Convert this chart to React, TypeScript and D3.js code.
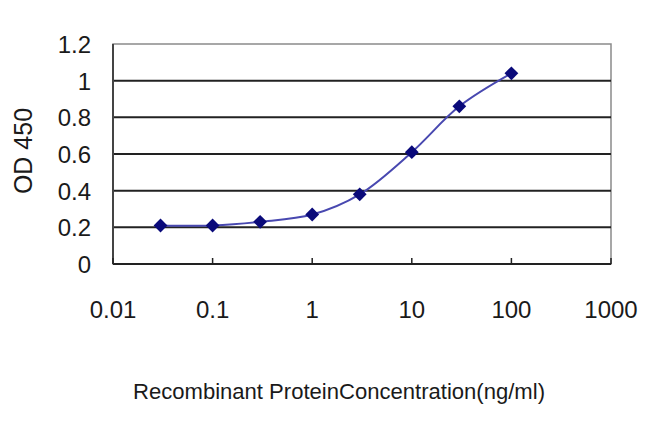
import { useEffect, useRef } from "react";
import * as d3 from "d3";

const WIDTH = 650;
const HEIGHT = 433;

const concentrations = [0.03, 0.1, 0.3, 1, 3, 10, 30, 100];
const odValues = [0.21, 0.21, 0.23, 0.27, 0.38, 0.61, 0.86, 1.04];

const xTicks = [0.01, 0.1, 1, 10, 100, 1000];
const xTickLabels = ["0.01", "0.1", "1", "10", "100", "1000"];
const yTicks = [0, 0.2, 0.4, 0.6, 0.8, 1, 1.2];
const yTickLabels = ["0", "0.2", "0.4", "0.6", "0.8", "1", "1.2"];

const FONT = "Liberation Sans, Arial, sans-serif";

export default function App() {
  const svgRef = useRef<SVGSVGElement | null>(null);

  useEffect(() => {
    if (!svgRef.current) return;
    const svg = d3.select(svgRef.current);
    svg.selectAll("*").remove();

    const margin = { top: 44, right: 39, bottom: 169, left: 113 };
    const innerWidth = WIDTH - margin.left - margin.right;
    const innerHeight = HEIGHT - margin.top - margin.bottom;

    svg.append("rect").attr("width", WIDTH).attr("height", HEIGHT).attr("fill", "#fff");

    const g = svg
      .append("g")
      .attr("transform", `translate(${margin.left},${margin.top})`);

    const xScale = d3.scaleLog().domain([0.01, 1000]).range([0, innerWidth]);
    const yScale = d3.scaleLinear().domain([0, 1.2]).range([innerHeight, 0]);

    // plot frame
    g.append("rect")
      .attr("width", innerWidth)
      .attr("height", innerHeight)
      .attr("fill", "none")
      .attr("stroke", "#8a8a8a")
      .attr("stroke-width", 1.5);

    // horizontal grid lines
    g.selectAll(".grid")
      .data(yTicks.filter((d) => d > 0 && d < 1.2))
      .join("line")
      .attr("x1", 0)
      .attr("x2", innerWidth)
      .attr("y1", (d) => yScale(d))
      .attr("y2", (d) => yScale(d))
      .attr("stroke", "#222")
      .attr("stroke-width", 2);

    // axes lines
    g.append("line")
      .attr("x1", 0)
      .attr("x2", innerWidth)
      .attr("y1", innerHeight)
      .attr("y2", innerHeight)
      .attr("stroke", "#222")
      .attr("stroke-width", 2);
    g.append("line")
      .attr("x1", 0)
      .attr("x2", 0)
      .attr("y1", 0)
      .attr("y2", innerHeight)
      .attr("stroke", "#444")
      .attr("stroke-width", 2);

    // x ticks (inward)
    g.selectAll(".xtick")
      .data(xTicks)
      .join("line")
      .attr("x1", (d) => xScale(d))
      .attr("x2", (d) => xScale(d))
      .attr("y1", innerHeight)
      .attr("y2", innerHeight - 6)
      .attr("stroke", "#222")
      .attr("stroke-width", 1.5);

    // x tick labels
    g.selectAll(".xlabel")
      .data(xTicks)
      .join("text")
      .attr("x", (d) => xScale(d))
      .attr("y", innerHeight + 54)
      .attr("text-anchor", "middle")
      .attr("font-family", FONT)
      .attr("font-size", 24)
      .attr("fill", "#1a1a1a")
      .text((_d, i) => xTickLabels[i]);

    // y tick labels
    g.selectAll(".ylabel")
      .data(yTicks)
      .join("text")
      .attr("x", -22)
      .attr("y", (d) => yScale(d) + 9)
      .attr("text-anchor", "end")
      .attr("font-family", FONT)
      .attr("font-size", 24)
      .attr("fill", "#1a1a1a")
      .text((_d, i) => yTickLabels[i]);

    // axis titles
    svg
      .append("text")
      .attr("transform", `translate(32,151) rotate(-90)`)
      .attr("text-anchor", "middle")
      .attr("font-family", FONT)
      .attr("font-size", 25)
      .attr("fill", "#1a1a1a")
      .text("OD 450");

    svg
      .append("text")
      .attr("x", 133)
      .attr("y", 399)
      .attr("font-family", FONT)
      .attr("font-size", 22)
      .attr("fill", "#1a1a1a")
      .attr("textLength", 412)
      .attr("lengthAdjust", "spacingAndGlyphs")
      .text("Recombinant ProteinConcentration(ng/ml)");

    const points = concentrations.map((c, i) => [c, odValues[i]] as [number, number]);

    const line = d3
      .line<[number, number]>()
      .x((d) => xScale(d[0]))
      .y((d) => yScale(d[1]))
      .curve(d3.curveCatmullRom.alpha(0.5));

    g.append("path")
      .datum(points)
      .attr("d", line)
      .attr("fill", "none")
      .attr("stroke", "#4848b0")
      .attr("stroke-width", 2);

    const marker = d3.symbol().type(d3.symbolSquare).size(95);
    g.selectAll(".marker")
      .data(points)
      .join("path")
      .attr("d", marker)
      .attr("transform", (d) => `translate(${xScale(d[0])},${yScale(d[1])}) rotate(45)`)
      .attr("fill", "#0a0a7a");
  }, []);

  return (
    <div style={{ position: "absolute", left: 0, top: 0 }}>
      <svg ref={svgRef} width={WIDTH} height={HEIGHT} style={{ display: "block" }} />
    </div>
  );
}
